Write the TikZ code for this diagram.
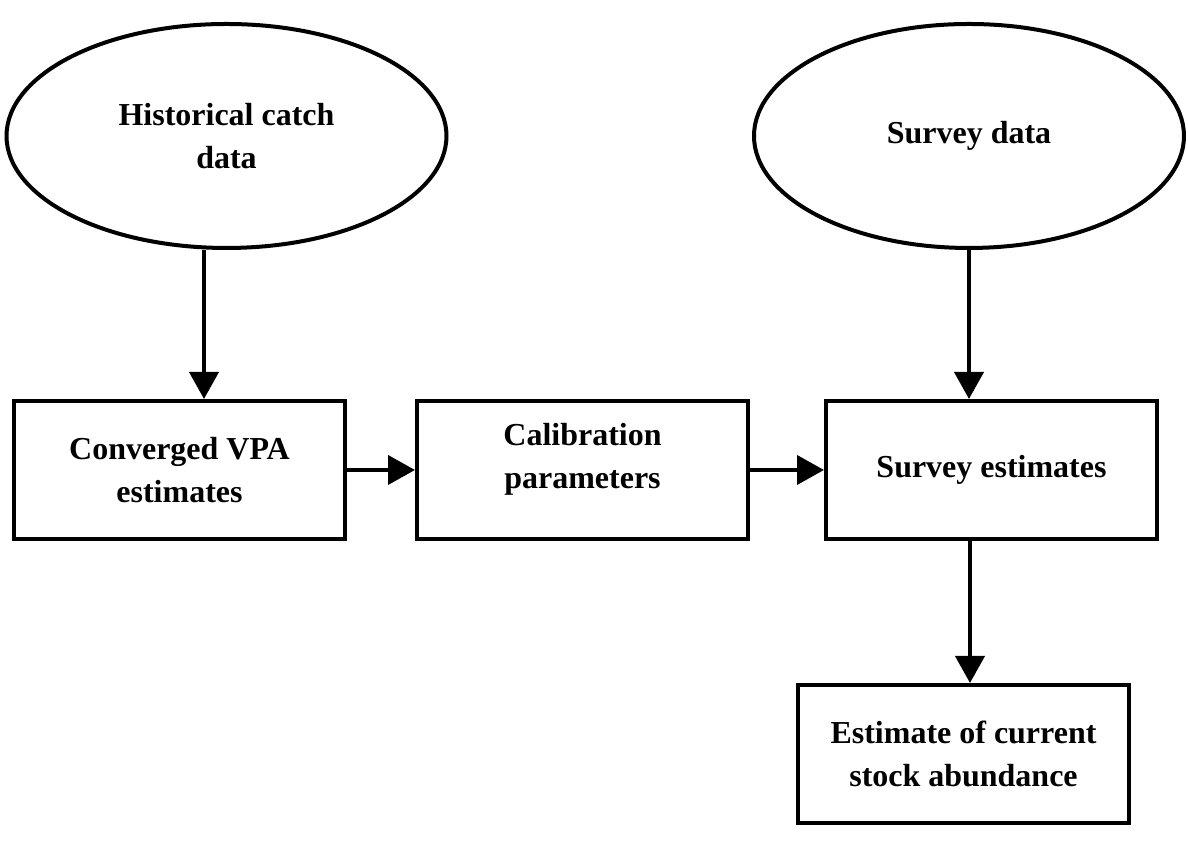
\documentclass[tikz,border=0pt]{standalone}
\usepackage{fontspec}
\setmainfont{Liberation Serif}
\usepackage{tikz}
\usetikzlibrary{shapes.geometric,arrows.meta,calc}
\tikzstyle{datasrc} = [ellipse, draw=black, line width=0.4mm, inner sep=0pt, minimum width=4.4cm, minimum height=2.24cm, align=center, font=\fontsize{9.1}{12.2}\selectfont\bfseries]
\tikzstyle{stage} = [rectangle, draw=black, line width=0.4mm, minimum width=3.31cm, minimum height=1.38cm, align=center, font=\fontsize{9.1}{12.2}\selectfont\bfseries]
\tikzstyle{arrow} = [line width=0.4mm,-{Triangle[length=2.7mm,width=2.9mm]}]

\begin{document}
\begin{tikzpicture}[node distance=4cm]
    \useasboundingbox (0,0) rectangle (11.88,8.52);
    \node (conv)[stage] at (1.795,3.82) {Converged VPA\\estimates};
    \node (calib)[stage, right of=conv, xshift=0.03cm]{Calibration\\parameters\\[-4pt]\mbox{}};
    \node (survest)[stage, right of=calib, xshift=0.09cm]{Survey estimates};
    \node (abund)[stage, below of=survest, xshift=-0.28cm, yshift=1.16cm]{Estimate of current\\stock abundance};
    \node (catch)[datasrc, above of=conv, xshift=0.47cm, yshift=-0.66cm]{Historical catch\\data};
    \node (survdat)[datasrc, above of=survest, xshift=-0.225cm, yshift=-0.66cm, minimum width=4.3cm]{Survey data};
    \draw[arrow] ([xshift=-0.225cm]catch.south) -- ([xshift=-0.225cm]catch.south |- conv.north);
    \draw[arrow] (survdat.south) -- (survdat.south |- survest.north);
    \draw[arrow] (conv)--(calib);
    \draw[arrow] (calib)--(survest);
    \draw[arrow] ([xshift=-0.215cm]survest.south) -- ([xshift=-0.215cm]survest.south |- abund.north);

  \end{tikzpicture}
\end{document}
